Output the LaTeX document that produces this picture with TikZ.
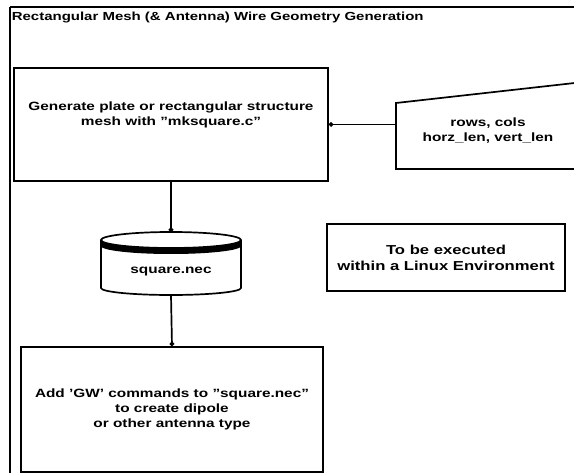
\documentclass[tikz,border=0pt]{standalone}
\usepackage{fontspec}
\setmainfont{Liberation Sans}[FakeStretch=1.28]
\usetikzlibrary{arrows.meta}
\begin{document}
\begin{tikzpicture}[x=1pt,y=-1pt,line width=1.7pt,
  boxtxt/.style={align=center,font=\bfseries\fontsize{12}{15}\selectfont},
  procbox/.style={draw,rectangle,inner sep=0pt,boxtxt},
  dotend/.style={-{Circle[length=4.5pt]}},
  dotstart/.style={{Circle[length=4.5pt]}-}]
\useasboundingbox (0,0) rectangle (574,473);
% frame
\draw (10,7) -- (580,7);
\draw (10,7) -- (10,480);
\node[anchor=west,inner sep=0pt,font=\bfseries\fontsize{11.7}{14}\selectfont] (title) at (11,17.5) {Rectangular Mesh (\& Antenna) Wire Geometry Generation};
% box 1
\node[procbox,minimum width=314pt,minimum height=113pt] (gen) at (171,124.5)
  {Generate plate or rectangular structure\\mesh with "mksquare.c"\\[6pt]};
% trapezoid (manual input)
\draw (580,82.4) -- (396,103) -- (396,169) -- (580,169);
\node[boxtxt] (params) at (488,131) {rows, cols\\horz\_len, vert\_len};
\coordinate (paramsw) at (396,124.5);
\draw[dotstart] (gen.east) -- (paramsw);
% cylinder (stored data)
\fill (101,240) arc[start angle=180,end angle=360,x radius=70pt,y radius=8pt]
  -- ++(0,6) arc[start angle=360,end angle=180,x radius=70pt,y radius=8pt] -- cycle;
\draw (101,240) -- (101,288) arc[start angle=180,end angle=360,x radius=70pt,y radius=7pt] -- (241,240);
\draw (171,240) ellipse[x radius=70pt,y radius=8pt];
\node[boxtxt] (store) at (171,272) {square.nec};
\coordinate (storetop) at (171,232);
\coordinate (storebot) at (171,295);
\draw[dotend] (gen.south) -- (storetop);
% environment note
\node[procbox,minimum width=238pt,minimum height=67pt,font=\bfseries\fontsize{13}{16}\selectfont] (env) at (446,257.5)
  {To be executed\\within a Linux Environment};
% box 3
\node[procbox,minimum width=302pt,minimum height=125pt] (gw) at (172,409.5)
  {Add 'GW' commands to "square.nec"\\to create dipole\\or other antenna type};
\draw[dotend] (storebot) -- (gw.north);
\end{tikzpicture}
\end{document}
